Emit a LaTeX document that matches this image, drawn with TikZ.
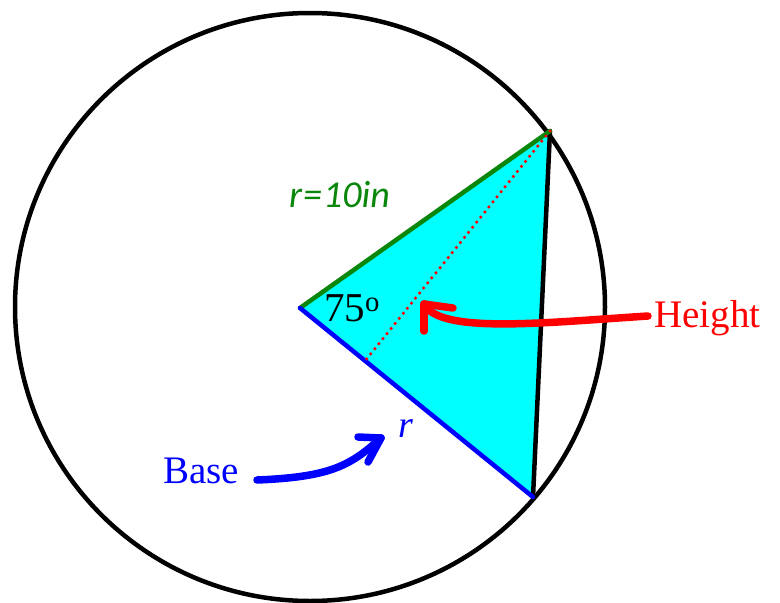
\documentclass[tikz,border=0pt]{standalone}
\usepackage{fontspec}
\setmainfont{Liberation Serif}
\newfontfamily\carl{Carlito}
\definecolor{grn}{RGB}{10,135,10}
\definecolor{cy}{RGB}{0,255,255}
\tikzset{
  lbl/.style={inner sep=0pt, anchor=base west},
  edge/.style={line width=4.5pt, line cap=round},
  penarrow/.style={line width=7.5pt, line cap=round, line join=round}
}
\begin{document}
\begin{tikzpicture}[x=1pt,y=-1pt]
\useasboundingbox (0,0) rectangle (780,603);
\fill[white] (0,0) rectangle (780,603);
\coordinate (O) at (300,308);
\coordinate (B) at (550,131);
\coordinate (C) at (533,497);
\coordinate (F) at (365,361);
\fill[cy] (O)--(B)--(C)--cycle;
\draw[line width=4.5pt] (310,307) ellipse [x radius=295, y radius=294];
\draw[edge] (B)--(C);
\draw[edge, grn] (O)--(B);
\draw[edge, blue] (O)--(C);
\draw[red, line width=3.5pt, dash pattern=on 0pt off 6.5pt, line cap=round] (B)--(F);
% labels
\node[lbl, text=grn, font=\carl\itshape\fontsize{38}{38}\selectfont] (rad) at (289,207) {r\kern1pt=\kern1pt10in};
\node[lbl, font=\fontsize{41}{41}\selectfont] (ang) at (324,321) {75\textsuperscript{o}};
\node[lbl, text=red, font=\fontsize{39}{39}\selectfont] (hgt) at (654,327) {Height};
\node[lbl, text=blue, font=\fontsize{39}{39}\selectfont] (bas) at (163,483) {Base};
\node[lbl, text=blue, font=\itshape\fontsize{38}{38}\selectfont] (rr) at (398,437) {r};
% red arrow
\coordinate (hs) at (648,316);
\coordinate (ht) at (424,304);
\draw[penarrow, red] (hs) .. controls (540,323) and (440,334) .. (ht);
\draw[penarrow, red] (ht) -- (424,331);
\draw[penarrow, red] (ht) -- (453,308);
% blue arrow
\coordinate (bs) at (257,480);
\coordinate (bt) at (381,438);
\draw[penarrow, blue] (bs) .. controls (330,477) and (350,466) .. (bt);
\draw[penarrow, blue] (bt) -- (358,437);
\draw[penarrow, blue] (bt) -- (368,462);
\end{tikzpicture}
\end{document}
